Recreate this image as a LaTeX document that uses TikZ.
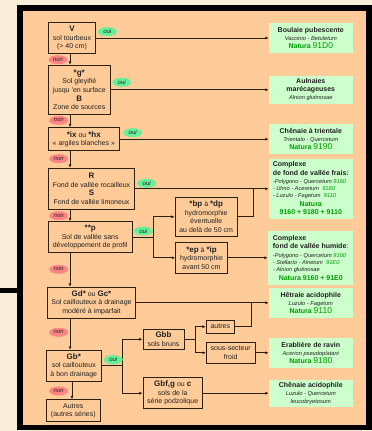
\documentclass[tikz,border=0pt]{standalone}
\usepackage{fontspec}
\setmainfont{Liberation Sans}
\usetikzlibrary{arrows.meta,shapes.geometric,calc}
\definecolor{parch}{HTML}{F8EDD8}
\definecolor{orng}{HTML}{FFCC99}
\definecolor{rgreen}{HTML}{CCFFCC}
\definecolor{ngreen}{HTML}{009900}
\definecolor{ouic}{HTML}{66EE99}
\definecolor{nonc}{HTML}{FF8585}
\definecolor{bord}{HTML}{2E2010}
\definecolor{txt}{HTML}{202020}
\newcommand\hbx[1]{{\fontsize{8}{9}\selectfont\bfseries #1}}
\newcommand\natlab[1]{{\color{ngreen}\bfseries Natura} {\color{ngreen}\fontsize{8.5}{9}\selectfont #1}}
\newcommand\latn[1]{{\fontsize{5.7}{7}\selectfont\itshape #1}}
\tikzset{
 dbox/.style={draw=bord, line width=0.9pt, fill=orng, inner sep=0pt, align=center,
   font=\fontsize{7}{8.6}\selectfont, text=txt},
 rbox/.style={fill=rgreen, inner sep=0pt, align=center,
   font=\fontsize{7}{8}\selectfont, text=txt, minimum width=83.7pt},
 rtext/.style={inner sep=0pt, align=left, font=\fontsize{7}{7}\selectfont, text=txt, anchor=north west},
 ntext/.style={inner sep=0pt, align=center, font=\fontsize{7}{8}\selectfont\bfseries, text=ngreen},
 conn/.style={draw=bord, line width=0.9pt},
 arr/.style={conn, -{Latex[length=3.4pt,width=3pt]}},
 ouil/.style={ellipse, fill=ouic, inner sep=0pt, minimum width=19pt, minimum height=9pt,
   font=\fontsize{6}{6}\selectfont\itshape, text=txt},
 nonl/.style={ouil, fill=nonc},
}
\begin{document}
\begin{tikzpicture}[x=1pt,y=-1pt]
\useasboundingbox (0,0) rectangle (372,431);
% background and frame
\fill[parch] (0,0) rectangle (372,431);
\fill[black] (17.3,5) rectangle (372,429.5);
\fill[orng] (23.3,11) rectangle (366,424.5);
\fill[black] (0,287.7) rectangle (17.3,293.3);

% decision boxes
\node[dbox, minimum width=47.4pt, minimum height=30.6pt] (V) at (72,38)
  {\hbx{V}\\sol tourbeux\\(> 40 cm)};
\node[dbox, minimum width=62pt, minimum height=49pt] (g) at (79.3,89.8)
  {\hbx{*g*}\\Sol gleyifié\\jusqu 'en surface\\\hbx{B}\\Zone de sources};
\node[dbox, minimum width=71pt, minimum height=23pt] (ix) at (83.8,139.2)
  {\hbx{*ix} ou \hbx{*hx}\\« argiles blanches »};
\node[dbox, minimum width=86.4pt, minimum height=41pt] (RS) at (91.5,188.8)
  {\hbx{R}\\Fond de vallée rocailleux\\\hbx{S}\\Fond de vallée limoneux};
\node[dbox, minimum width=83.7pt, minimum height=30.6pt] (p) at (90.2,237)
  {\hbx{**p}\\Sol de vallée sans\\développement de profil};
\node[dbox, minimum width=62.3pt, minimum height=39pt] (bp) at (206.2,216.8)
  {\hbx{*bp} à \hbx{*dp}\\hydromorphie\\éventuelle\\au delà de 50 cm};
\node[dbox, minimum width=51.6pt, minimum height=31pt] (ep) at (201.5,257.8)
  {\hbx{*ep} à \hbx{*ip}\\hydromorphie\\avant 50 cm};
\node[dbox, minimum width=88.4pt, minimum height=31pt] (Gd) at (91.5,302.8)
  {\hbx{Gd*} ou \hbx{Gc*}\\Sol caillouteux à drainage\\modéré à imparfait};
\node[dbox, minimum width=55pt, minimum height=30.7pt] (Gb) at (73.8,365.7)
  {\hbx{Gb*}\\sol caillouteux\\à bon drainage};
\node[dbox, minimum width=54pt, minimum height=22pt] (Au) at (73.3,410.7)
  {Autres\\(autres séries)};
\node[dbox, minimum width=41pt, minimum height=20.7pt] (Gbb) at (163.5,339.3)
  {\hbx{Gbb}\\sols bruns};
\node[dbox, minimum width=59.3pt, minimum height=31pt] (Gbf) at (172.7,393.2)
  {\hbx{Gbf,g} ou \hbx{c}\\sols de la\\série podzolique};
\node[dbox, minimum width=28pt, minimum height=13.3pt] (au2) at (220.3,326.7)
  {autres};
\node[dbox, minimum width=48.7pt, minimum height=21pt] (ss) at (230.7,352.8)
  {sous-secteur\\froid};

% result boxes
\node[rbox, minimum height=29.4pt] (R1) at (310.8,38)
  {{\bfseries Boulaie pubescente}\\\latn{Vaccinio - Betuletum}\\\natlab{91D0}};
\node[rbox, minimum height=27.7pt] (R2) at (310.8,89.8)
  {{\bfseries Aulnaies}\\{\bfseries marécageuses}\\\latn{Alnion glutinosae}};
\node[rbox, minimum height=29.4pt] (R3) at (310.8,139)
  {{\bfseries Chênaie à trientale}\\\latn{Trientalo - Quercetum}\\\natlab{9190}};
\node[rbox, minimum height=60pt] (R4) at (310.8,189) {};
\node[rtext] (R4a) at (272.7,161.6)
  {{\bfseries Complexe}\\[2pt]{\bfseries de fond de vallée frais:}\\[0.7pt]
   \latn{-Polygono - Quercetum {\color{ngreen}9160}}\\
   \latn{- Ulmo - Aceretum\ \ {\color{ngreen}9180}}\\
   \latn{- Luzulo - Fagetum\ \ {\color{ngreen}9110}}};
\node[ntext] (R4b) at (310.8,208.3) {Natura\\9160 + 9180 + 9110};
\node[rbox, minimum width=84.7pt, minimum height=53.4pt] (R5) at (310.3,258) {};
\node[rtext] (R5a) at (272.7,235)
  {{\bfseries Complexe}\\[1pt]{\bfseries fond de vallée humide}:\\[2.3pt]
   \latn{-Polygono - Quercetum {\color{ngreen}9160}}\\
   \latn{- Stellario - Alnetum\ \ {\color{ngreen}91E0}}\\
   \latn{- Alnion glutinosae}};
\node[ntext] (R5b) at (310.8,278.3) {Natura 9160 + 91E0};
\node[rbox, minimum height=29.4pt] (R6) at (310.8,303)
  {{\bfseries Hêtraie acidophile}\\\latn{Luzulo - Fagetum}\\\natlab{9110}};
\node[rbox, minimum height=29.4pt] (R7) at (310.8,353)
  {{\bfseries Erablière de ravin}\\\latn{Acerion pseudoplatani}\\\natlab{9180}};
\node[rbox, minimum height=26.7pt] (R8) at (310.8,393.3)
  {{\bfseries Chênaie acidophile}\\\latn{Luzulo - Quercetum}\\\latn{leucobryetosum}};

% helper coordinates
\coordinate (cx70) at (70,0);
\coordinate (cx72) at (72,0);
\coordinate (s1x) at (153.7,0);
\coordinate (j1x) at (253.3,0);
\coordinate (s2x) at (122.7,0);
\coordinate (s3x) at (195,0);
\coordinate (j2x) at (251.7,0);

% vertical "non" arrows
\draw[arr] (V.south -| cx70) -- (g.north -| cx70);
\draw[arr] (g.south -| cx70) -- (ix.north -| cx70);
\draw[arr] (ix.south -| cx70) -- (RS.north -| cx70);
\draw[arr] (RS.south -| cx70) -- (p.north -| cx70);
\draw[arr] (p.south -| cx70) -- (Gd.north -| cx70);
\draw[arr] (Gd.south -| cx70) -- (Gb.north -| cx70);
\draw[arr] (Gb.south -| cx72) -- (Au.north -| cx72);

% horizontal "oui" arrows
\draw[arr] (V.east) -- (V.east -| R1.west);
\draw[arr] (g.east) -- (g.east -| R2.west);
\draw[arr] (ix.east) -- (ix.east -| R3.west);
\draw[arr] (RS.east) -- (RS.east -| R4.west);
\draw[conn] (p.east) -- (p.east -| s1x);
\draw[arr] (p.east -| s1x) |- (bp.west);
\draw[arr] (p.east -| s1x) |- (ep.west);
\draw[conn] (bp.east) -| (RS.east -| j1x);
\draw[arr] (ep.east) -- (ep.east -| R5.west);
\draw[arr] (Gd.east) -- (Gd.east -| R6.west);
\draw[conn] (Gb.east) -- (Gb.east -| s2x);
\draw[arr] (Gb.east -| s2x) |- (Gbb.west);
\draw[arr] (Gb.east -| s2x) |- (Gbf.west);
\draw[conn] (Gbb.east) -- (Gbb.east -| s3x);
\draw[arr] (Gbb.east -| s3x) |- (au2.west);
\draw[arr] (Gbb.east -| s3x) |- (ss.west);
\draw[conn] (au2.east) -| (Gd.east -| j2x);
\draw[arr] (ss.east) -- (ss.east -| R7.west);
\draw[arr] (Gbf.east) -- (Gbf.east -| R8.west);

% labels
\node[ouil] (o1) at (107.3,31.7) {oui};
\node[ouil] (o2) at (121.7,82.3) {oui};
\node[ouil] (o3) at (132.7,132.7) {oui};
\node[ouil] (o4) at (146.7,183.3) {oui};
\node[ouil] (o5) at (143.3,231) {oui};
\node[ouil] (o6) at (113.3,359.7) {oui};
\node[nonl] (n1) at (58,59.7) {non};
\node[nonl] (n2) at (58.7,120.3) {non};
\node[nonl] (n3) at (58.7,158.7) {non};
\node[nonl] (n4) at (58.7,215.7) {non};
\node[nonl] (n5) at (58.7,269.3) {non};
\node[nonl] (n6) at (58.7,332.3) {non};
\node[nonl] (n7) at (58.7,391) {non};
\end{tikzpicture}
\end{document}
